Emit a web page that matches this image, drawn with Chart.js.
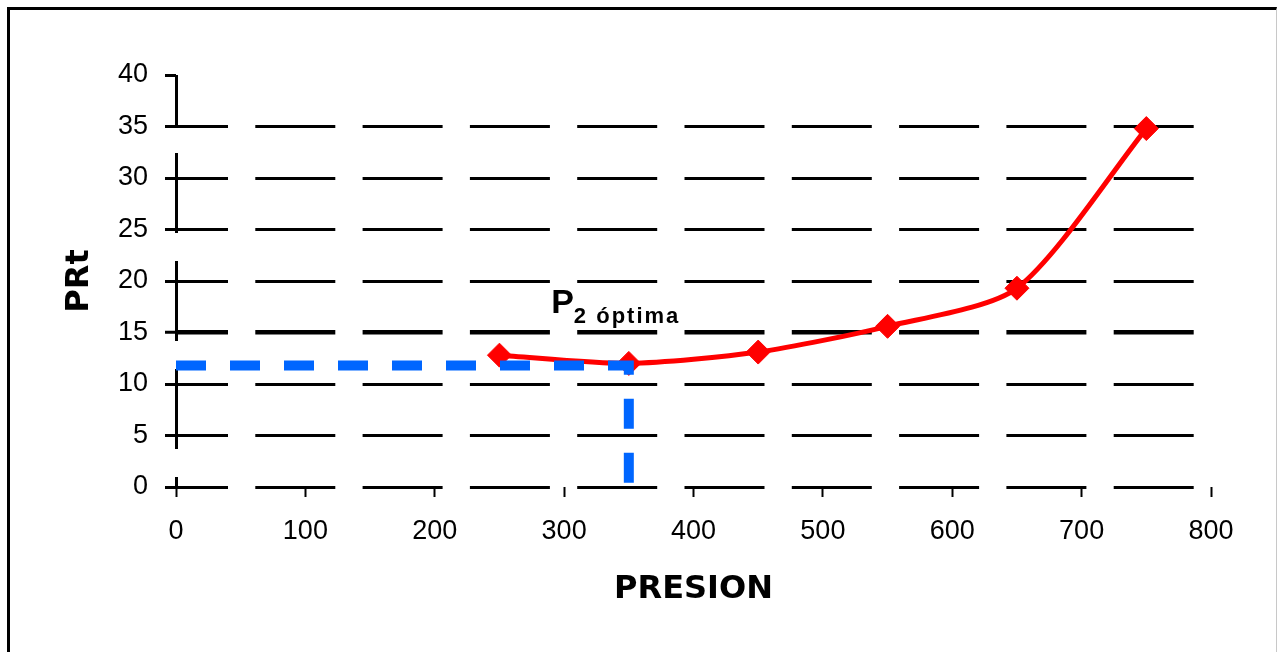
<!DOCTYPE html>
<html>
<head>
<meta charset="utf-8">
<script src="https://cdn.jsdelivr.net/npm/chart.js@4/dist/chart.umd.min.js"></script>
<style>
  html, body { margin: 0; overflow: hidden; background: #fff; }
  #frame {
    position: absolute; left: 7px; top: 7px; width: 1266px; height: 660px;
    border-left: 3px solid #000; border-top: 3px solid #000; border-right: 1px solid #c8c8c8;
  }
  #wrap { position: absolute; left: 0; top: 0; width: 1277px; height: 652px; }
</style>
</head>
<body>
<div id="frame"></div>
<div id="wrap"><canvas id="myChart" width="1277" height="652"></canvas></div>
<script>
// curva PRt vs presion
const presion = [250, 350, 450, 550, 650, 750];
const prt = [12.8, 12.0, 13.1, 15.6, 19.3, 34.8];

// recta de lectura del optimo (P2 optima)
const optimoX = [0, 350, 350];
const optimoY = [11.8, 11.8, 0];

const xTicks = [0, 100, 200, 300, 400, 500, 600, 700, 800];
const yTicks = [0, 5, 10, 15, 20, 25, 30, 35, 40];

const labelPos = [290, 16.9];

Chart.defaults.font.family = "'Liberation Sans', Arial, sans-serif";
Chart.defaults.color = "#000";

const optimaLabel = {
  id: "optimaLabel",
  afterDatasetsDraw(chart) {
    const { ctx, scales } = chart;
    const x = scales.x.getPixelForValue(labelPos[0]);
    const y = scales.y.getPixelForValue(labelPos[1]);
    ctx.save();
    ctx.fillStyle = "#000";
    ctx.textBaseline = "alphabetic";
    ctx.textAlign = "left";
    ctx.font = "bold 34px 'Liberation Sans'";
    ctx.fillText("P", x, y);
    const w = ctx.measureText("P").width;
    ctx.font = "bold 22px 'Liberation Sans'";
    ctx.letterSpacing = "2px";
    ctx.fillText("2 óptima", x + w, y + 10);
    ctx.restore();
  }
};

var ctx = document.getElementById("myChart").getContext("2d");
var myChart = new Chart(ctx, {
  type: "line",
  data: {
    datasets: [
      {
        label: "optimo",
        data: optimoX.map((x, i) => ({ x: x, y: optimoY[i] })),
        borderColor: "#0066ff",
        borderWidth: 10,
        borderDash: [30, 24],
        borderCapStyle: "butt",
        pointRadius: 0,
        tension: 0,
      },
      {
        label: "PRt",
        data: presion.map((x, i) => ({ x: x, y: prt[i] })),
        borderColor: "#ff0000",
        backgroundColor: "#ff0000",
        borderWidth: 5,
        tension: 0.25,
        pointStyle: "rectRot",
        pointRadius: 12,
        pointBorderWidth: 1,
        pointBackgroundColor: "#ff0000",
        pointBorderColor: "#ff0000",
      },
    ],
  },
  options: {
    responsive: false,
    animation: false,
    layout: {
      padding: { left: 0, top: 75, right: 66, bottom: 40 }
    },
    plugins: {
      legend: { display: false },
      tooltip: { enabled: false }
    },
    scales: {
      x: {
        type: "linear",
        min: 0,
        max: 800,
        afterBuildTicks: (axis) => { axis.ticks = xTicks.map(v => ({ value: v })); },
        afterFit: (axis) => { axis.height = 125; },
        // only the line at 0 is drawn inside the plot: it is the dashed vertical axis
        grid: {
          drawOnChartArea: true,
          color: (c) => (c.tick && c.tick.value === 0 ? "#000" : "rgba(0,0,0,0)"),
          lineWidth: 3,
          drawTicks: true,
          tickLength: 10,
          tickColor: "#000",
          tickWidth: 2,
          tickBorderDash: [],
        },
        border: { display: false, dash: [80, 28], dashOffset: 30 },
        ticks: {
          font: { size: 27 },
          padding: 18,
          maxRotation: 0,
        },
        title: {
          display: true,
          text: "PRESION",
          font: { family: "'DejaVu Sans'", size: 32, weight: "bold" },
          padding: { top: 0, bottom: 3 }
        }
      },
      y: {
        type: "linear",
        min: 0,
        max: 40,
        afterBuildTicks: (axis) => { axis.ticks = yTicks.map(v => ({ value: v })); },
        afterFit: (axis) => { axis.width = 176; },
        grid: {
          color: (c) => (c.tick && c.tick.value === 40 ? "rgba(0,0,0,0)" : "#000"),
          lineWidth: (c) => (c.tick && c.tick.value === 15 ? 4.5 : 3),
          tickColor: "#000",
          tickLength: 11,
          tickBorderDash: [],
          tickWidth: 3,
        },
        border: { display: false, dash: [80, 27.3], dashOffset: 28 },
        ticks: {
          font: { size: 27 },
          padding: 17,
        },
        title: {
          display: true,
          text: "PRt",
          font: { family: "'DejaVu Sans'", size: 32, weight: "bold" },
          padding: { top: 60, bottom: 0 }
        }
      }
    }
  },
  plugins: [optimaLabel]
});
</script>
</body>
</html>
